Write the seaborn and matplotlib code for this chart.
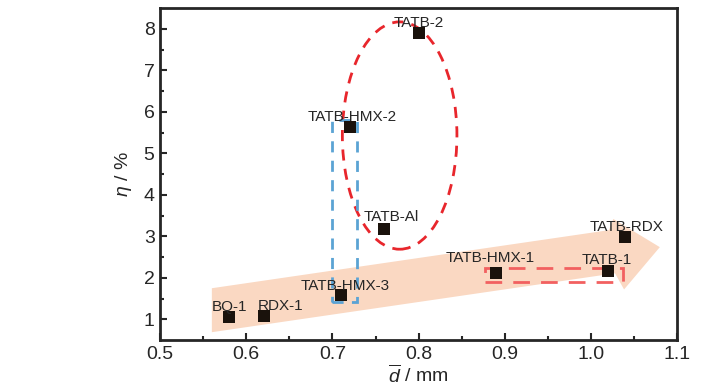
import seaborn as sns
import matplotlib.pyplot as plt
import pandas as pd
from matplotlib.patches import Ellipse, Rectangle, Polygon

# sample data
names = ["BQ-1", "RDX-1", "TATB-HMX-3", "TATB-Al", "TATB-HMX-2",
         "TATB-2", "TATB-HMX-1", "TATB-1", "TATB-RDX"]
d_mm = [0.58, 0.62, 0.71, 0.76, 0.72, 0.80, 0.89, 1.02, 1.04]
eta = [1.05, 1.07, 1.58, 3.17, 5.64, 7.90, 2.11, 2.16, 2.98]
label_text = ["BQ-1", "RDX-1", "TATB-HMX-3", "TATB-Al", "TATB-HMX-2",
              "TATB-2", "TATB-HMX-1", "TATB-1", "TATB-RDX"]
label_dx = [0, 17, 4, 7, 3, 0, -6, -1, 1]
label_dy = [10, 10, 9, 12, 10, 10, 15, 11, 10]

df = pd.DataFrame({"name": names, "d": d_mm, "eta": eta})

sns.set_style("ticks")
plt.rcParams["font.family"] = ["Liberation Sans", "DejaVu Sans"]
plt.rcParams["mathtext.fontset"] = "custom"
plt.rcParams["mathtext.it"] = "Liberation Sans:italic"
plt.rcParams["mathtext.rm"] = "Liberation Sans"

fig = plt.figure(figsize=(7.28, 3.9), dpi=100)
ax = fig.add_axes([0.22, 0.128, 0.71, 0.851])

# big trend arrow in the background
arrow = Polygon([(0.560, 1.75), (0.560, 0.69), (1.028, 2.11), (1.0385, 1.72),
                 (1.080, 2.74), (1.026, 3.42), (1.021, 3.15)],
                closed=True, facecolor="#fad8c2", edgecolor="none", zorder=0)
ax.add_patch(arrow)

sns.scatterplot(data=df, x="d", y="eta", marker="s", s=75, color="#1a120c",
                edgecolor="none", ax=ax, zorder=3)

for t, x, y, dx, dy in zip(label_text, d_mm, eta, label_dx, label_dy):
    ax.annotate(t, (x, y), xytext=(dx, dy), textcoords="offset pixels",
                ha="center", va="center", fontsize=11, color="#262626", zorder=4)

ax.add_patch(Ellipse((0.778, 5.43), 0.133, 5.48, fill=False, edgecolor="#e8262c",
                     lw=2, linestyle=(0, (4, 3)), zorder=2))
ax.add_patch(Rectangle((0.700, 1.41), 0.029, 4.40, fill=False, edgecolor="#5ba3d4",
                       lw=2, linestyle=(0, (4, 3)), zorder=2))
ax.add_patch(Rectangle((0.877, 1.89), 0.160, 0.34, fill=False, edgecolor="#f26060",
                       lw=2, linestyle=(0, (6, 4)), zorder=2))

ax.set_xlim(0.5, 1.1)
ax.set_ylim(0.5, 8.5)
ax.set_xticks([0.5, 0.6, 0.7, 0.8, 0.9, 1.0, 1.1])
ax.set_yticks(range(1, 9))
ax.set_xticks([0.55, 0.65, 0.75, 0.85, 0.95, 1.05], minor=True)
ax.set_yticks([1.5, 2.5, 3.5, 4.5, 5.5, 6.5, 7.5], minor=True)
ax.tick_params(which="both", direction="in", width=1.5, labelsize=14, pad=4)
ax.tick_params(which="major", length=5)
ax.tick_params(which="minor", length=3)
for sp in ax.spines.values():
    sp.set_linewidth(2)
    sp.set_visible(True)

ax.set_xlabel(r"$\overline{d}$ / mm", fontsize=14, labelpad=1)
ax.set_ylabel(r"$\eta$ / %", fontsize=14, labelpad=7)

plt.savefig("out.png", dpi=100)
